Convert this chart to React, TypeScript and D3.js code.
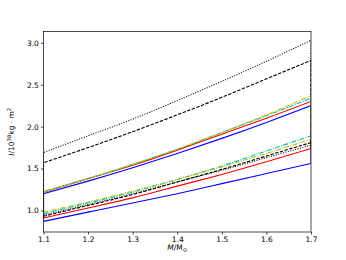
import React, { useEffect, useRef } from "react";
import * as d3 from "d3";

// masses (M/Msun) at which the curves were read
const masses = [1.1, 1.2, 1.3, 1.4, 1.5, 1.6, 1.7];

// moment of inertia, 10^38 kg m^2 : lower and upper branch per model
const blueLow = [0.87, 0.98, 1.09, 1.2, 1.32, 1.44, 1.56];
const blueHigh = [1.2, 1.35, 1.51, 1.68, 1.86, 2.05, 2.25];
const redLow = [0.91, 1.03, 1.15, 1.29, 1.43, 1.58, 1.74];
const redHigh = [1.22, 1.38, 1.54, 1.72, 1.91, 2.1, 2.3];
const dashedLow = [0.93, 1.06, 1.19, 1.34, 1.49, 1.65, 1.81];
const dashedHigh = [1.57, 1.75, 1.94, 2.14, 2.35, 2.57, 2.79];
const dottedLow = [0.945, 1.07, 1.2, 1.34, 1.48, 1.63, 1.78];
const dottedHigh = [1.69, 1.89, 2.09, 2.31, 2.54, 2.78, 3.03];
const cyanLow = [0.96, 1.09, 1.22, 1.37, 1.53, 1.71, 1.89];
const cyanHigh = [1.22, 1.38, 1.55, 1.73, 1.93, 2.13, 2.34];
const yellowLow = [0.98, 1.1, 1.23, 1.37, 1.52, 1.68, 1.85];
const yellowHigh = [1.22, 1.38, 1.55, 1.73, 1.93, 2.14, 2.37];

const xTicks = [1.1, 1.2, 1.3, 1.4, 1.5, 1.6, 1.7];
const yTicks = [1.0, 1.5, 2.0, 2.5, 3.0];

const models = [
  { low: blueLow, high: blueHigh, color: "#0000ff", dash: null },
  { low: redLow, high: redHigh, color: "#ff0000", dash: null },
  { low: dashedLow, high: dashedHigh, color: "#000000", dash: "3.4,1.5" },
  { low: dottedLow, high: dottedHigh, color: "#000000", dash: "1,1.5" },
  { low: cyanLow, high: cyanHigh, color: "#00bfbf", dash: "5,1.3,1,1.3" },
  { low: yellowLow, high: yellowHigh, color: "#bfbf00", dash: "5,1.3,1,1.3" },
];

function App() {
  const svgRef = useRef<SVGSVGElement>(null);

  useEffect(() => {
    const width = 346;
    const height = 260;
    const margin = { top: 31.5, right: 35, bottom: 28, left: 43.5 };

    const svg = d3.select(svgRef.current);
    svg.selectAll("*").remove();
    svg.attr("width", width).attr("height", height);

    const x = d3
      .scaleLinear()
      .domain([1.1, 1.7])
      .range([margin.left, width - margin.right]);
    const y = d3
      .scaleLinear()
      .domain([0.743, 3.135])
      .range([height - margin.bottom, margin.top]);

    svg
      .append("defs")
      .append("clipPath")
      .attr("id", "plotclip")
      .append("rect")
      .attr("x", margin.left)
      .attr("y", margin.top)
      .attr("width", width - margin.left - margin.right)
      .attr("height", height - margin.top - margin.bottom);

    const line = d3
      .line<[number, number]>()
      .x((d) => x(d[0]))
      .y((d) => y(d[1]))
      .curve(d3.curveNatural);

    const plot = svg.append("g").attr("clip-path", "url(#plotclip)");

    models.forEach((m) => {
      const lowPts = masses.map((v, i) => [v, m.low[i]] as [number, number]);
      const highPts = masses
        .map((v, i) => [v, m.high[i]] as [number, number])
        .reverse();
      const lowPath = line(lowPts) as string;
      const highPath = (line(highPts) as string).replace(/^M/, "L");
      plot
        .append("path")
        .attr("d", lowPath + highPath + "Z")
        .attr("fill", "none")
        .attr("stroke", m.color)
        .attr("stroke-width", 1.1)
        .attr("stroke-dasharray", m.dash);
    });

    // frame
    svg
      .append("rect")
      .attr("x", margin.left)
      .attr("y", margin.top)
      .attr("width", width - margin.left - margin.right)
      .attr("height", height - margin.top - margin.bottom)
      .attr("fill", "none")
      .attr("stroke", "#000")
      .attr("stroke-width", 0.7);

    const xAxis = svg
      .append("g")
      .attr("transform", `translate(0,${height - margin.bottom})`)
      .call(
        d3
          .axisBottom(x)
          .tickValues(xTicks)
          .tickSize(2.6)
          .tickPadding(2)
          .tickFormat(d3.format(".1f"))
      );
    const yAxis = svg
      .append("g")
      .attr("transform", `translate(${margin.left},0)`)
      .call(
        d3
          .axisLeft(y)
          .tickValues(yTicks)
          .tickSize(2.6)
          .tickPadding(2)
          .tickFormat(d3.format(".1f"))
      );
    [xAxis, yAxis].forEach((a) => {
      a.select(".domain").remove();
      a.selectAll("line").attr("stroke-width", 0.7);
      a.selectAll("text")
        .style("font-family", "DejaVu Sans")
        .style("font-size", "7.5px")
        .attr("fill", "#000");
    });

    // x label
    const xl = svg
      .append("text")
      .attr("x", (margin.left + width - margin.right) / 2)
      .attr("y", 250)
      .attr("text-anchor", "middle")
      .style("font-family", "DejaVu Sans")
      .style("font-size", "7.5px");
    xl.append("tspan").style("font-style", "italic").text("M");
    xl.append("tspan").text("/M");
    xl.append("tspan").attr("dy", 1.8).style("font-size", "5.5px").text("⊙");

    // y label
    const yl = svg
      .append("text")
      .attr(
        "transform",
        `translate(14,${(margin.top + height - margin.bottom) / 2}) rotate(-90)`
      )
      .attr("text-anchor", "middle")
      .style("font-family", "DejaVu Sans")
      .style("font-size", "7.5px");
    yl.append("tspan").style("font-style", "italic").text("I");
    yl.append("tspan").text("/10");
    yl.append("tspan").attr("dy", -3).style("font-size", "5.3px").text("38");
    yl.append("tspan").attr("dy", 3).text("kg · m");
    yl.append("tspan").attr("dy", -3).style("font-size", "5.3px").text("2");
  }, []);

  return <svg ref={svgRef} style={{ position: "absolute", left: 0, top: 0 }}></svg>;
}

export default App;
